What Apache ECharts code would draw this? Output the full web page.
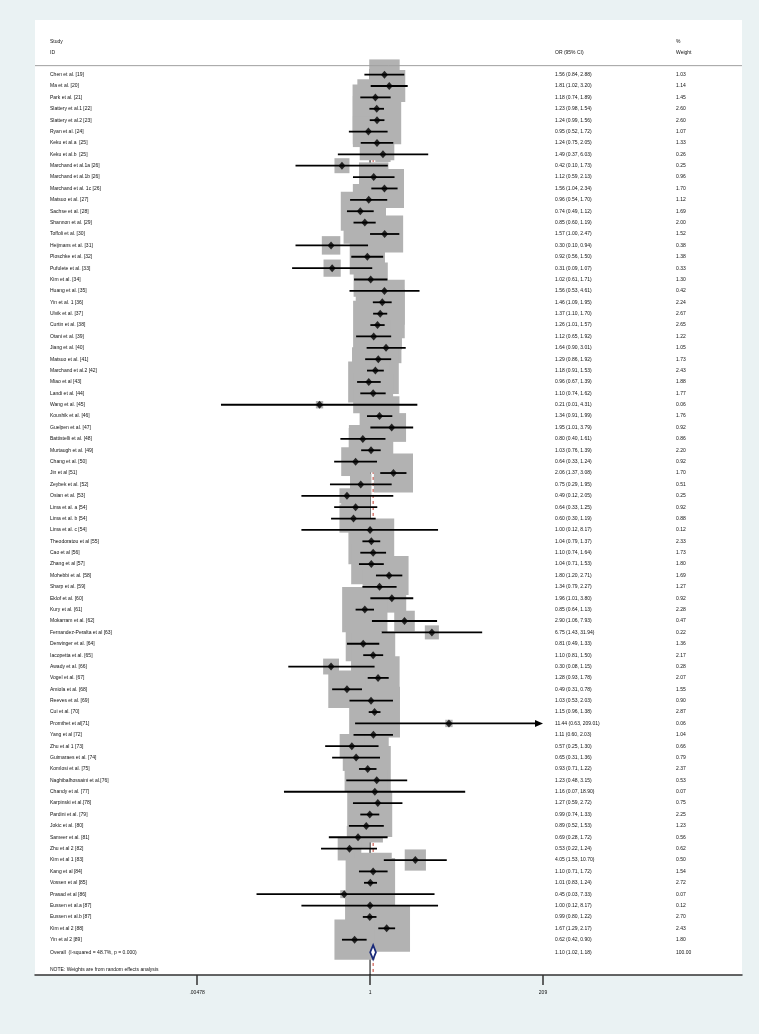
<!DOCTYPE html>
<html>
<head>
<meta charset="utf-8">
<script src="https://cdn.jsdelivr.net/npm/echarts@6/dist/echarts.min.js"></script>
<style>
  html, body { margin: 0; padding: 0; background: #eaf2f3; }
  #forest { width: 759px; height: 1034px; }
</style>
</head>
<body>
<div id="forest"></div>
<script>
// study data
var names = ['Chen et al. [19]', 'Ma et al. [20]', 'Park et al. [21]', 'Slattery et al.1 [22]', 'Slattery et al.2 [23]',
  'Ryan et al. [24]', 'Keku et al.a  [25]', 'Keku et al.b  [25]', 'Marchand et al.1a [26]', 'Marchand et al.1b [26]',
  'Marchand et al. 1c [26]', 'Matsuo et al. [27]', 'Sachse et al. [28]', 'Shannon et al. [29]', 'Toffoli et al. [30]',
  'Heijmans et al. [31]', 'Ploschke et al. [32]', 'Pufulete et al. [33]', 'Kim et al. [34]', 'Huang et al. [35]',
  'Yin et al. 1 [36]', 'Ulvik et al. [37]', 'Curtin et al. [38]', 'Otani et al. [39]', 'Jiang et al. [40]',
  'Matsuo et al. [41]', 'Marchand et al.2 [42]', 'Miao et al [43]', 'Landi et al. [44]', 'Wang et al. [45]',
  'Koushik et al. [46]', 'Guelpen et al. [47]', 'Battistelli et al. [48]', 'Murtaugh et al. [49]', 'Chang et al. [50]',
  'Jin et al [51]', 'Zeybek et al. [52]', 'Osian et al. [53]', 'Lima et al. a [54]', 'Lima et al. b [54]',
  'Lima et al. c [54]', 'Theodoratou et al [55]', 'Cao et al [56]', 'Zhang et al [57]', 'Mohebbi et al. [58]',
  'Sharp et al. [59]', 'Eklof et al. [60]', 'Kury et al. [61]', 'Mokarram et al. [62]', 'Fernandez-Peralta et al [63]',
  'Derwinger et al. [64]', 'Iacopetta et al. [65]', 'Awady et al. [66]', 'Vogel et al. [67]', 'Amiola et al. [68]',
  'Reeves et al. [69]', 'Cui et al. [70]', 'Promthet et al[71]', 'Yang et al [72]', 'Zhu et al 1 [73]',
  'Guimaraes et al. [74]', 'Komlosi et al. [75]', 'Naghibalhossaini et al.[76]', 'Chandy et al. [77]', 'Karpinski et al.[78]',
  'Pardini et al. [79]', 'Jokic et al. [80]', 'Sameer et al. [81]', 'Zhu et al 2 [82]', 'Kim et al 1 [83]',
  'Kang et al [84]', 'Vossen et al [85]', 'Prasad et al [86]', 'Eussen et al.a [87]', 'Eussen et al.b [87]',
  'Kim et al 2 [88]', 'Yin et al 2 [89]'];

var or = [1.56, 1.81, 1.18, 1.23, 1.24, 0.95, 1.24, 1.49, 0.42, 1.12,
  1.56, 0.96, 0.74, 0.85, 1.57, 0.30, 0.92, 0.31, 1.02, 1.56,
  1.46, 1.37, 1.26, 1.12, 1.64, 1.29, 1.18, 0.96, 1.10, 0.21,
  1.34, 1.95, 0.80, 1.03, 0.64, 2.06, 0.75, 0.49, 0.64, 0.60,
  1.00, 1.04, 1.10, 1.04, 1.80, 1.34, 1.96, 0.85, 2.90, 6.75,
  0.81, 1.10, 0.30, 1.28, 0.49, 1.03, 1.15, 11.44, 1.11, 0.57,
  0.65, 0.93, 1.23, 1.16, 1.27, 0.99, 0.89, 0.69, 0.53, 4.05,
  1.10, 1.01, 0.45, 1.00, 0.99, 1.67, 0.62];

var lo = [0.84, 1.02, 0.74, 0.98, 0.99, 0.52, 0.75, 0.37, 0.10, 0.59,
  1.04, 0.54, 0.49, 0.60, 1.00, 0.10, 0.56, 0.09, 0.61, 0.53,
  1.09, 1.10, 1.01, 0.65, 0.90, 0.86, 0.91, 0.67, 0.74, 0.01,
  0.91, 1.01, 0.40, 0.76, 0.33, 1.37, 0.29, 0.12, 0.33, 0.30,
  0.12, 0.79, 0.74, 0.71, 1.20, 0.79, 1.01, 0.64, 1.06, 1.43,
  0.49, 0.81, 0.08, 0.93, 0.31, 0.53, 0.96, 0.63, 0.60, 0.25,
  0.31, 0.71, 0.48, 0.07, 0.59, 0.74, 0.52, 0.28, 0.22, 1.53,
  0.71, 0.83, 0.03, 0.12, 0.80, 1.29, 0.42];

var hi = [2.88, 3.20, 1.89, 1.54, 1.56, 1.72, 2.05, 6.03, 1.73, 2.13,
  2.34, 1.70, 1.12, 1.19, 2.47, 0.94, 1.50, 1.07, 1.71, 4.61,
  1.95, 1.70, 1.57, 1.92, 3.01, 1.92, 1.53, 1.39, 1.62, 4.31,
  1.99, 3.79, 1.61, 1.39, 1.24, 3.08, 1.95, 2.05, 1.25, 1.19,
  8.17, 1.37, 1.64, 1.53, 2.71, 2.27, 3.80, 1.13, 7.93, 31.94,
  1.33, 1.50, 1.15, 1.78, 0.78, 2.03, 1.38, 209.01, 2.03, 1.30,
  1.36, 1.22, 3.15, 18.90, 2.72, 1.33, 1.53, 1.72, 1.24, 10.70,
  1.72, 1.24, 7.33, 8.17, 1.22, 2.17, 0.90];

var wt = [1.03, 1.14, 1.45, 2.60, 2.60, 1.07, 1.33, 0.26, 0.25, 0.96,
  1.70, 1.12, 1.69, 2.00, 1.52, 0.38, 1.38, 0.33, 1.30, 0.42,
  2.24, 2.67, 2.65, 1.22, 1.05, 1.73, 2.43, 1.88, 1.77, 0.06,
  1.76, 0.92, 0.86, 2.20, 0.92, 1.70, 0.51, 0.25, 0.92, 0.88,
  0.12, 2.33, 1.73, 1.80, 1.69, 1.27, 0.92, 2.28, 0.47, 0.22,
  1.36, 2.17, 0.28, 2.07, 1.55, 0.90, 2.87, 0.06, 1.04, 0.66,
  0.79, 2.37, 0.53, 0.07, 0.75, 2.25, 1.23, 0.56, 0.62, 0.50,
  1.54, 2.72, 0.07, 0.12, 2.70, 2.43, 1.80];

var overall = [1.10, 1.02, 1.18];   // OR, lower, upper
var overallLabel = 'Overall  (I-squared = 48.7%, p = 0.000)';
var overallWeight = '100.00';
var noteText = 'NOTE: Weights are from random effects analysis';
var headTop = ['Study', '', '%'];
var headBottom = ['ID', 'OR (95% CI)', 'Weight'];
var tickValues = [0.00478, 1, 209];
var tickLabels = ['.00478', '1', '209'];

// layout
var FONT = 'Liberation Sans, Arial, Helvetica, sans-serif';
var FS = 5;
var COLX = [50, 555, 676];      // text columns (pixel axis)
var BOX = 30;                    // box side for weight 1
var OVERALL_ROW = 77.1;
var NOTE_ROW = 78.6;
var XLIM = 209;                  // CIs beyond this get an arrow

function fmtCI(a, b, c) {
  return a.toFixed(2) + ' (' + b.toFixed(2) + ', ' + c.toFixed(2) + ')';
}

var textItems = [];
textItems.push({ y: -2.9, cols: headTop });
textItems.push({ y: -1.93, cols: headBottom });
names.forEach(function (n, i) {
  textItems.push({ y: i, cols: [n, fmtCI(or[i], lo[i], hi[i]), wt[i].toFixed(2)] });
});
textItems.push({ y: OVERALL_ROW, cols: [overallLabel, fmtCI(overall[0], overall[1], overall[2]), overallWeight] });
textItems.push({ y: NOTE_ROW, cols: [noteText, '', ''] });

var chart = echarts.init(document.getElementById('forest'));

var option = {
  backgroundColor: '#eaf2f3',
  animation: false,
  grid: { left: 35, top: 20, width: 707, height: 955, show: true, backgroundColor: '#ffffff', borderWidth: 0 },
  xAxis: [
    {
      type: 'value', min: -10.35, max: 11.49,
      splitLine: { show: false },
      axisLine: { show: true, onZero: false, lineStyle: { color: '#333', width: 1.5 } },
      axisTick: { show: true, length: 10, customValues: tickValues.map(Math.log), lineStyle: { color: '#333', width: 1.5 } },
      axisLabel: {
        customValues: tickValues.map(Math.log), margin: 15, fontSize: FS, fontFamily: FONT, color: '#111',
        formatter: function (v) {
          for (var k = 0; k < tickValues.length; k++) {
            if (Math.abs(Math.log(tickValues[k]) - v) < 1e-6) return tickLabels[k];
          }
          return '';
        }
      }
    },
    { type: 'value', min: 35, max: 742, show: false, splitLine: { show: false } }
  ],
  yAxis: { type: 'value', min: -4.8, max: 79.1, inverse: true, show: false, splitLine: { show: false } },
  series: [
    {
      // null line at 1 and dashed overall line
      type: 'custom', xAxisIndex: 0, silent: true, z: 1,
      data: [[0, 1], [Math.log(overall[0]), 2]],
      renderItem: function (params, api) {
        var top = api.coord([api.value(0), -0.5]);
        var bot = api.coord([api.value(0), 79.1]);
        var dashed = api.value(1) === 2;
        return {
          type: 'line',
          shape: { x1: top[0], y1: top[1], x2: bot[0], y2: bot[1] },
          style: { stroke: dashed ? '#c0392b' : '#000', lineWidth: 1, lineDash: dashed ? [3, 3] : null }
        };
      }
    },
    {
      // weight boxes
      type: 'custom', xAxisIndex: 0, silent: true, z: 2,
      data: or.map(function (v, i) { return [Math.log(v), i, wt[i]]; }),
      renderItem: function (params, api) {
        var c = api.coord([api.value(0), api.value(1)]);
        var s = BOX * Math.sqrt(api.value(2));
        return { type: 'rect', shape: { x: c[0] - s / 2, y: c[1] - s / 2, width: s, height: s }, style: { fill: '#b2b2b2' } };
      }
    },
    {
      // confidence intervals
      type: 'custom', xAxisIndex: 0, silent: true, z: 3,
      data: or.map(function (v, i) { return [Math.log(lo[i]), Math.log(hi[i]), i]; }),
      renderItem: function (params, api) {
        var l = Math.max(api.value(0), Math.log(1 / XLIM));
        var h = api.value(1);
        var arrow = h > Math.log(XLIM);
        if (arrow) h = Math.log(XLIM);
        var a = api.coord([l, api.value(2)]);
        var b = api.coord([h, api.value(2)]);
        var kids = [{
          type: 'line',
          shape: { x1: a[0], y1: a[1], x2: arrow ? b[0] - 5 : b[0], y2: b[1] },
          style: { stroke: '#000', lineWidth: 1.8 }
        }];
        if (arrow) {
          kids.push({
            type: 'polygon',
            shape: { points: [[b[0], b[1]], [b[0] - 8, b[1] - 3.5], [b[0] - 8, b[1] + 3.5]] },
            style: { fill: '#000' }
          });
        }
        return { type: 'group', children: kids };
      }
    },
    {
      // point estimates
      type: 'scatter', xAxisIndex: 0, silent: true, z: 4,
      symbol: 'diamond', symbolSize: [7, 8],
      itemStyle: { color: '#000' },
      data: or.map(function (v, i) { return [Math.log(v), i]; })
    },
    {
      // overall diamond
      type: 'custom', xAxisIndex: 0, silent: true, z: 4,
      data: [[Math.log(overall[0]), Math.log(overall[1]), Math.log(overall[2]), OVERALL_ROW]],
      renderItem: function (params, api) {
        var y = api.value(3);
        var m = api.coord([api.value(0), y]);
        var l = api.coord([api.value(1), y]);
        var r = api.coord([api.value(2), y]);
        var h = 7;
        return {
          type: 'polygon',
          shape: { points: [[l[0] - 0.5, m[1]], [m[0], m[1] - h], [r[0] + 0.5, m[1]], [m[0], m[1] + h]] },
          style: { fill: '#ffffff', stroke: '#1a2a7a', lineWidth: 1.8 }
        };
      }
    },
    {
      // header rule
      type: 'custom', xAxisIndex: 1, silent: true, z: 5,
      data: [[35, -0.79]],
      renderItem: function (params, api) {
        var a = api.coord([35, api.value(1)]);
        var b = api.coord([742, api.value(1)]);
        return { type: 'line', shape: { x1: a[0], y1: a[1], x2: b[0], y2: b[1] }, style: { stroke: '#a0a0a0', lineWidth: 1 } };
      }
    },
    {
      // text columns
      type: 'custom', xAxisIndex: 1, silent: true, z: 6,
      data: textItems.map(function (t, k) { return [0, t.y, k]; }),
      renderItem: function (params, api) {
        var t = textItems[api.value(2)];
        var kids = [];
        t.cols.forEach(function (s, j) {
          if (!s) return;
          var p = api.coord([COLX[j], t.y]);
          kids.push({
            type: 'text',
            style: { x: p[0], y: p[1], text: s, fill: '#111', fontSize: FS, fontFamily: FONT, align: 'left', verticalAlign: 'middle' }
          });
        });
        return { type: 'group', children: kids };
      }
    }
  ]
};

chart.setOption(option);
</script>
</body>
</html>
